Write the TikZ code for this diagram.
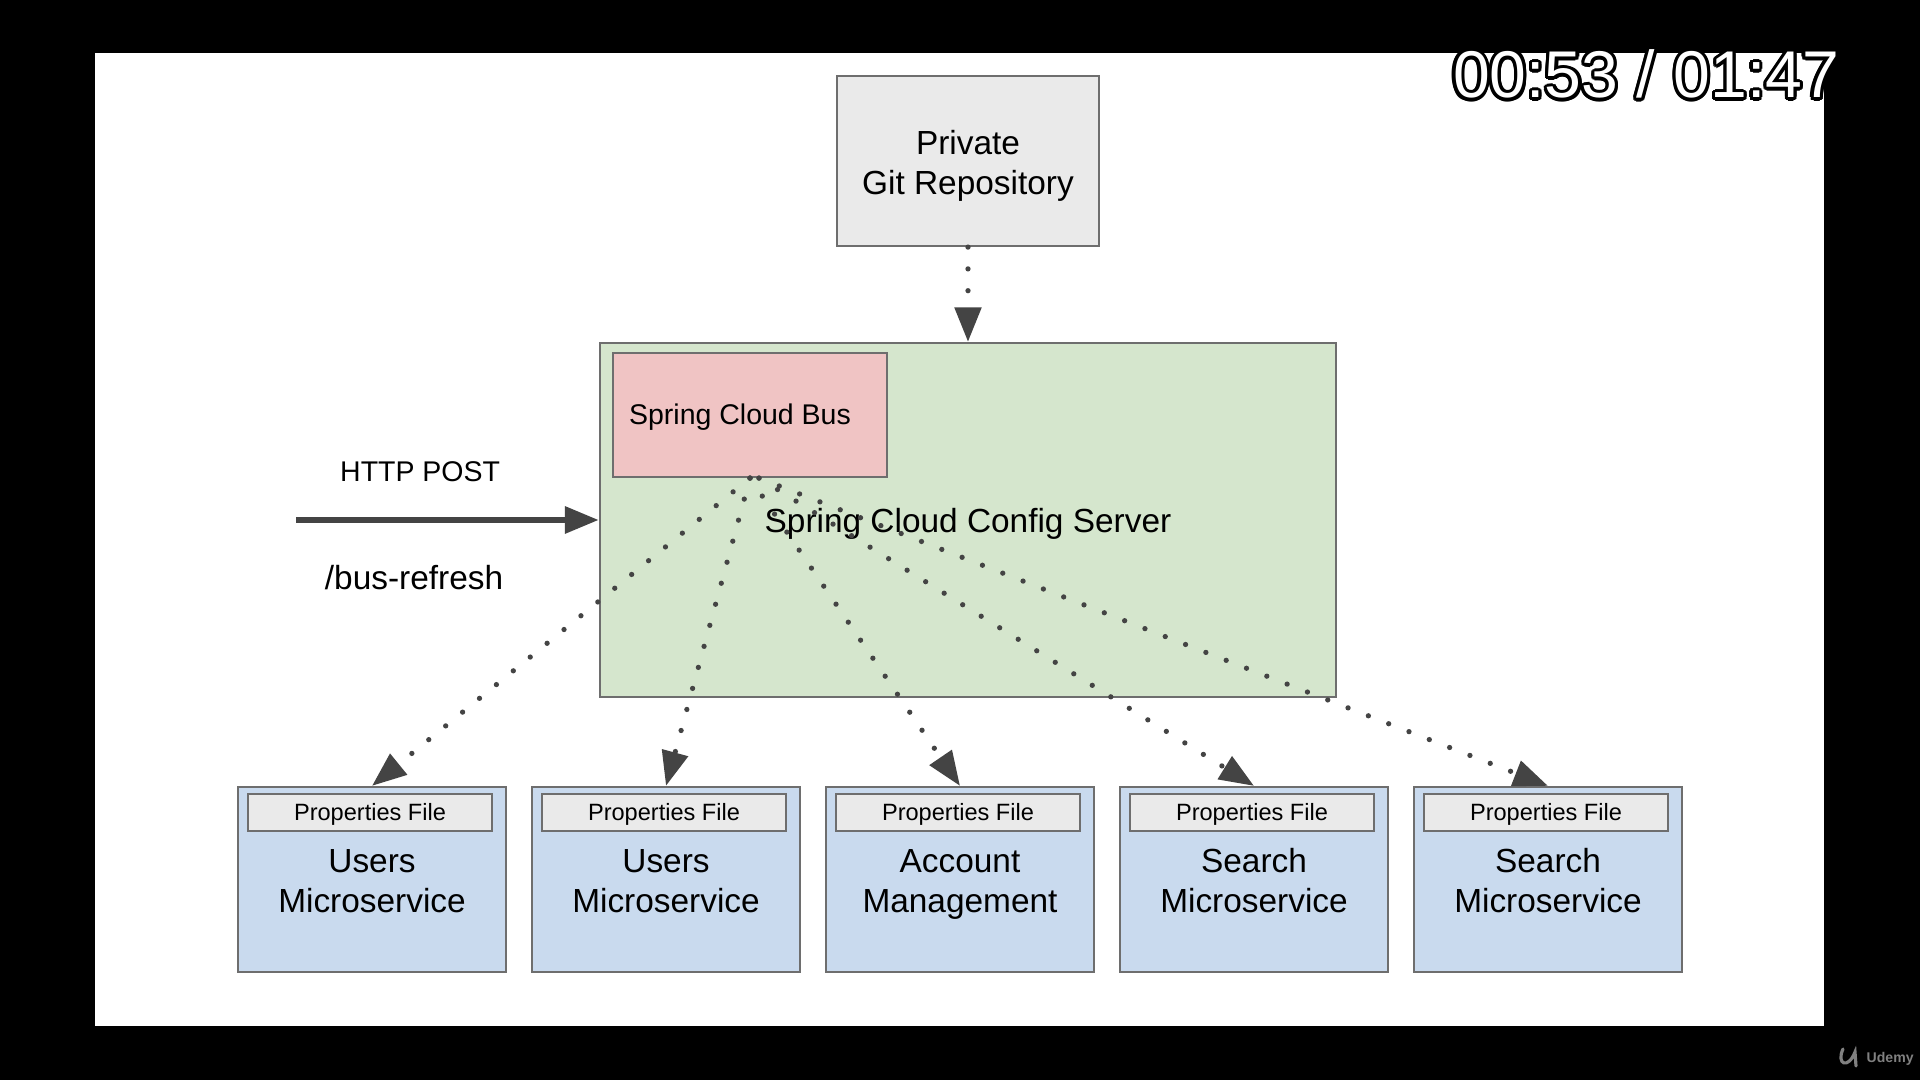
\documentclass[tikz,border=0pt]{standalone}
\usepackage{fontspec}
\setmainfont{Liberation Sans}
\usepackage[copies]{contour}
\usetikzlibrary{arrows.meta,positioning}

\definecolor{boxline}{HTML}{6E6E6E}
\definecolor{gitgray}{HTML}{EAEAEA}
\definecolor{configgreen}{HTML}{D5E6CD}
\definecolor{buspink}{HTML}{F0C4C4}
\definecolor{serviceblue}{HTML}{C9DAEE}
\definecolor{arrowgray}{HTML}{444444}

\begin{document}
\begin{tikzpicture}[x=0.01cm,y=-0.01cm,
    box/.style={draw=boxline,line width=0.6pt,inner sep=0pt,align=center,text=black},
    bigtext/.style={font=\fontsize{9.5}{11.4}\selectfont,execute at end node={\vphantom{g}}},
    smalltext/.style={font=\fontsize{8.1}{9.7}\selectfont},
    tinytext/.style={font=\fontsize{6.7}{8}\selectfont},
    dotarrow/.style={arrowgray,line width=1.5pt,line cap=round,dash pattern=on 0pt off 6.2pt,-{Triangle[length=9.8pt,width=7.4pt]}},
    postarrow/.style={arrowgray,line width=1.7pt,-{Triangle[length=9.6pt,width=7.4pt]}},
    service/.style={box,fill=serviceblue,minimum width=2.68cm,minimum height=1.85cm,bigtext},
    propfile/.style={box,fill=gitgray,minimum width=2.44cm,minimum height=0.37cm,tinytext}]
    \useasboundingbox (0,0) rectangle (1920,1080);
    \fill[black] (0,0) rectangle (1920,1080);
    \fill[white] (95,53) rectangle (1824,1026);

    \node[box,fill=gitgray,minimum width=2.62cm,minimum height=1.70cm,bigtext] (git) at (968,161) {\rule{0pt}{9.6pt}Private\\Git Repository};
    \node[box,fill=configgreen,minimum width=7.36cm,minimum height=3.54cm,bigtext] (server) at (968,520) {\rule{0pt}{9.2pt}Spring Cloud Config Server};
    \node[box,fill=buspink,minimum width=2.74cm,minimum height=1.24cm,smalltext] (bus) at (750,415) {\rule{0pt}{7.2pt}Spring Cloud Bus\hspace*{0.2cm}};

    \node[service] (ms1) at (372,879.5) {\rule{0pt}{9.6pt}Users\\Microservice};
    \node[service] (ms2) at (666,879.5) {\rule{0pt}{9.6pt}Users\\Microservice};
    \node[service] (ms3) at (960,879.5) {\rule{0pt}{9.6pt}Account\\Management};
    \node[service] (ms4) at (1254,879.5) {\rule{0pt}{9.6pt}Search\\Microservice};
    \node[service] (ms5) at (1548,879.5) {\rule{0pt}{9.6pt}Search\\Microservice};

    \node[propfile,below=0.07cm of ms1.north,xshift=-0.02cm] (pf1) {\rule{0pt}{6pt}Properties File};
    \node[propfile,below=0.07cm of ms2.north,xshift=-0.02cm] (pf2) {\rule{0pt}{6pt}Properties File};
    \node[propfile,below=0.07cm of ms3.north,xshift=-0.02cm] (pf3) {\rule{0pt}{6pt}Properties File};
    \node[propfile,below=0.07cm of ms4.north,xshift=-0.02cm] (pf4) {\rule{0pt}{6pt}Properties File};
    \node[propfile,below=0.07cm of ms5.north,xshift=-0.02cm] (pf5) {\rule{0pt}{6pt}Properties File};

    % refresh call
    \coordinate (client) at (296,520);
    \draw[postarrow] (client) -- (server.west)
        node[pos=0.41,above=0.35cm,inner sep=0pt,text=black,smalltext] (httppost) {HTTP POST}
        node[pos=0.39,below=0.42cm,inner sep=0pt,text=black,font=\fontsize{9.5}{11.4}\selectfont] (busrefresh) {/bus-refresh};

    % config and bus events
    \draw[dotarrow] (git.south) -- (server.north);
    \foreach \i/\s in {1/0,2/0,3/0,4/9,5/9}
        \draw[dotarrow] ([xshift=\s*0.01cm]bus.south) -- (ms\i.north);

    % video overlay
    \node[anchor=base,text=white,inner sep=0pt,font=\fontsize{18.8}{22}\selectfont] (timer) at (1646,98) {\contourlength{0.9pt}\contour{black}{00:53 / 01:47}};
    \draw[gray,line width=0.9pt,line cap=round] (1843,1049) .. controls (1836,1064) and (1848,1070) .. (1855,1052) -- (1856,1066);
    \node[anchor=base west,text=gray,inner sep=0pt,font=\bfseries\fontsize{4}{5}\selectfont] (udemy) at (1866,1063) {Udemy};
\end{tikzpicture}
\end{document}
